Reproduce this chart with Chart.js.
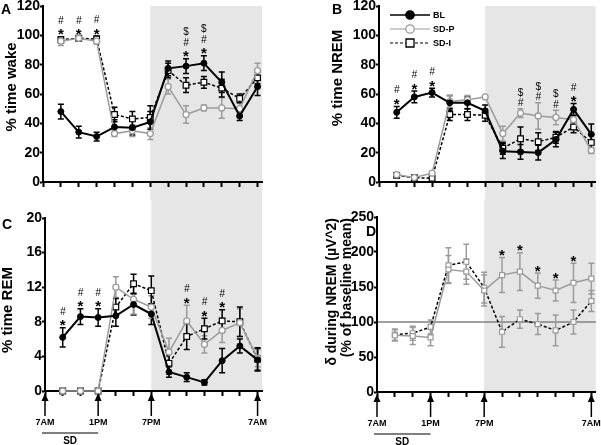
<!DOCTYPE html>
<html>
<head>
<meta charset="utf-8">
<script src="https://cdn.jsdelivr.net/npm/chart.js"></script>
<style>
  body { margin: 0; background: #fff; width: 601px; height: 445px; position: relative; overflow: hidden; }
  canvas { position: absolute; }
</style>
</head>
<body>
<canvas id="panelA" width="300" height="200" style="left:0;top:0;width:300px;height:200px"></canvas>
<canvas id="panelB" width="301" height="200" style="left:300px;top:0;width:301px;height:200px"></canvas>
<canvas id="panelC" width="300" height="245" style="left:0;top:200px;width:300px;height:245px"></canvas>
<canvas id="panelD" width="301" height="245" style="left:300px;top:200px;width:301px;height:245px"></canvas>
<script>
// 2-hour bins counted from 7AM
let bins = [1, 2, 3, 4, 5, 6, 7, 8, 9, 10, 11, 12];
let hourTicks = [0, 1, 2, 3, 4, 5, 6, 7, 8, 9, 10, 11, 12];
let clockPos = [0, 3, 6, 12];
let clockLabels = ['7AM', '1PM', '7PM', '7AM'];
let darkStart = 6;   // 7PM
let sdSpan = [0, 3]; // 7AM - 1PM

// A: % time wake
let wakeBL = [48, 34, 31, 37.5, 37, 41, 77.5, 79, 81, 68, 45, 65];
let wakeBLErr = [5, 4, 3, 5, 5, 7, 5, 5, 5, 7, 3, 6];
let wakeSDP = [96, 98, 96, 33, 35, 33, 65, 46, 50.5, 50.5, 50, 76];
let wakeSDPErr = [3, 1, 2, 2, 4, 4, 5, 6, 2, 7, 4, 5];
let wakeSDI = [97, 98, 97.5, 46, 43, 44, 76, 66, 68, 64, 57, 71];
let wakeSDIErr = [2, 1, 2, 5, 5, 8, 5, 5, 4, 6, 3, 4];

// B: % time NREM
let nremBL = [47.5, 58, 61, 54, 54, 48.5, 21, 20.5, 20, 29, 49.5, 32.5];
let nremBLErr = [4, 4, 3, 5, 4, 4, 5, 5, 5, 5, 4, 7];
let nremSDP = [5, 3, 6, 55, 56, 58, 33, 47, 45, 44, 42.5, 21.5];
let nremSDPErr = [1.5, 1, 1, 4, 3, 1, 5, 3, 9, 5, 2, 2];
let nremSDI = [4.5, 3, 2.5, 46, 46, 45.5, 23, 29.5, 27.5, 30.5, 37.5, 27];
let nremSDIErr = [1.5, 1, 1, 4, 4, 4, 4, 8, 6, 4, 4, 5];

// C: % time REM
let remBL = [6.2, 8.6, 8.5, 8.7, 10, 8.9, 2.2, 1.6, 1.0, 3.5, 5.2, 3.6];
let remBLErr = [1.1, 0.9, 1, 1.2, 1.2, 1.2, 0.6, 0.5, 0.3, 1.4, 0.8, 1.3];
let remSDP = [0, 0, 0, 12, 10.6, 9.7, 4.5, 8.1, 5.4, 7.0, 7.9, 3.8];
let remSDPErr = [0.1, 0.1, 0.1, 1.2, 1.7, 1.3, 1.6, 1.8, 1, 1.4, 1.6, 1];
let remSDI = [0, 0, 0, 9.7, 12.4, 11.6, 3.2, 6.3, 7.2, 8.1, 8.0, 3.7];
let remSDIErr = [0.1, 0.1, 0.1, 1, 1.1, 1.7, 1.2, 1.5, 1.2, 1.3, 1.7, 1.3];

// D: delta power during NREM (% of baseline mean)
let deltaSDP = [81, 80, 78, 175, 172, 145, 167, 172, 152, 145, 156, 162];
let deltaSDPErr = [8, 12, 12, 20, 18, 22, 25, 27, 18, 15, 28, 22];
let deltaSDI = [82, 84, 93, 181, 186, 149, 86, 104, 97, 88, 100, 130];
let deltaSDIErr = [8, 10, 10, 25, 25, 22, 22, 13, 15, 22, 17, 15];
let deltaBaseline = 100;

// significance marks stacked above each bin
let sigPosA = [1, 2, 3, 8, 9];
let sigMarksA = ['*#', '*#', '*#', '*#$', '*#$'];
let sigPosB = [1, 2, 3, 8, 9, 10, 11];
let sigMarksB = ['*#', '*#', '*#', '#$', '#$', '#$', '*#'];
let sigPosC = [1, 2, 3, 8, 9, 10];
let sigMarksC = ['*#', '*#', '*#', '*#', '*#', '*#'];
let sigPosD = [7, 8, 9, 10, 11];
let sigMarksD = ['*', '*', '*', '*', '*'];

const FONT = "'Liberation Sans', Arial, sans-serif";
const GRAY = '#9b9b9b';
const SHADE = '#e6e6e6';

function xy(vals) {
  return bins.map((x, i) => ({ x: x, y: vals[i] }));
}

function series(label, vals, errs, look) {
  let base = {
    label: label, data: xy(vals), errors: errs,
    tension: 0, fill: false, clip: false, spanGaps: true,
  };
  if (look == 'BL') Object.assign(base, {
    borderColor: '#000', borderWidth: 2, pointStyle: 'circle', pointRadius: 3,
    pointBackgroundColor: '#000', pointBorderColor: '#000', pointBorderWidth: 1, errColor: '#000',
  });
  if (look == 'SD-P') Object.assign(base, {
    borderColor: GRAY, borderWidth: 1.5, pointStyle: 'circle', pointRadius: 3,
    pointBackgroundColor: '#fff', pointBorderColor: GRAY, pointBorderWidth: 1.3, errColor: GRAY,
  });
  if (look == 'SD-I') Object.assign(base, {
    borderColor: '#000', borderWidth: 1.5, borderDash: [3, 2], pointStyle: 'rect', pointRadius: 4,
    pointBackgroundColor: '#fff', pointBorderColor: '#000', pointBorderWidth: 1.2, errColor: '#000',
  });
  if (look == 'D-P') Object.assign(base, {
    borderColor: GRAY, borderWidth: 1.5, pointStyle: 'rect', pointRadius: 3.5,
    pointBackgroundColor: '#fff', pointBorderColor: GRAY, pointBorderWidth: 1.2, errColor: GRAY,
  });
  if (look == 'D-I') Object.assign(base, {
    borderColor: '#000', borderWidth: 1.5, borderDash: [3, 2], pointStyle: 'rect', pointRadius: 3.5,
    pointBackgroundColor: '#fff', pointBorderColor: GRAY, pointBorderWidth: 1.2, errColor: GRAY,
  });
  return base;
}

// Grey band for the dark phase (+ reference line for D)
const shade = {
  id: 'shade',
  beforeDraw(chart, args, o) {
    let { ctx, chartArea: a, scales: { x } } = chart;
    let left = x.getPixelForValue(darkStart);
    let top = o.fullTop ? 0 : a.top;
    let bottom = o.fullBottom ? chart.height : a.bottom;
    ctx.save();
    ctx.fillStyle = SHADE;
    ctx.fillRect(left, top, a.right - left, bottom - top);
    if (o.ref != null) {
      let ry = chart.scales.y.getPixelForValue(o.ref);
      ctx.strokeStyle = '#808080';
      ctx.lineWidth = 1.5;
      ctx.beginPath(); ctx.moveTo(a.left, ry); ctx.lineTo(a.right, ry); ctx.stroke();
    }
    ctx.restore();
  }
};

// Error bars from dataset.errors
const errorBars = {
  id: 'errorBars',
  beforeDatasetsDraw(chart) {
    let { ctx, scales: { x, y } } = chart;
    ctx.save();
    chart.data.datasets.forEach(ds => {
      ctx.strokeStyle = ds.errColor;
      ctx.lineWidth = 1.5;
      ds.data.forEach((p, i) => {
        let e = ds.errors[i];
        if (!e || e < 0.2) return;
        let px = x.getPixelForValue(p.x);
        let hi = y.getPixelForValue(p.y + e);
        let lo = y.getPixelForValue(Math.max(0, p.y - e));
        ctx.beginPath();
        ctx.moveTo(px, hi); ctx.lineTo(px, lo);
        ctx.moveTo(px - 3, hi); ctx.lineTo(px + 3, hi);
        ctx.moveTo(px - 3, lo); ctx.lineTo(px + 3, lo);
        ctx.stroke();
      });
    });
    ctx.restore();
  }
};

// Stacked significance symbols above the highest error bar
const sig = {
  id: 'sig',
  afterDatasetsDraw(chart, args, o) {
    let { ctx, scales: { x, y } } = chart;
    ctx.save();
    ctx.fillStyle = '#000';
    ctx.textAlign = 'center';
    ctx.textBaseline = 'alphabetic';
    o.pos.forEach((p, k) => {
      let top = Math.max(...chart.data.datasets.map(ds => {
        let i = ds.data.findIndex(d => d.x === p);
        return ds.data[i].y + ds.errors[i];
      }));
      let px = x.getPixelForValue(p);
      let cy = y.getPixelForValue(top) - 6;
      for (let ch of o.marks[k]) {
        if (ch == '*') { ctx.font = 'bold 15px ' + FONT; ctx.fillText('*', px, cy + 8.5); }
        else if (ch == '#') { ctx.font = 'italic 10px ' + FONT; ctx.fillText('#', px, cy + 3.5); }
        else { ctx.font = '10px ' + FONT; ctx.fillText('$', px, cy + 3.5); }
        cy -= 10.5;
      }
    });
    ctx.restore();
  }
};

// Panel letter, axis title, clock arrows, SD bar, legend
const decor = {
  id: 'decor',
  afterDraw(chart, args, o) {
    let { ctx, chartArea: a, scales: { x } } = chart;
    ctx.save();
    ctx.fillStyle = '#000';
    ctx.strokeStyle = '#000';

    ctx.font = 'bold 14px ' + FONT;
    ctx.textAlign = 'center';
    ctx.textBaseline = 'middle';
    ctx.fillText(o.letter, o.letterX, o.letterY);

    ctx.font = 'bold ' + o.titleSize + 'px ' + FONT;
    o.title.forEach((line, i) => {
      ctx.save();
      ctx.translate(o.titleX[i], o.titleY);
      ctx.rotate(-Math.PI / 2);
      ctx.textAlign = o.titleAlign;
      ctx.fillText(line, 0, 0);
      ctx.restore();
    });

    if (o.clock) {
      let y0 = a.bottom + 2;
      ctx.lineWidth = 1.5;
      clockPos.forEach(p => {
        let px = x.getPixelForValue(p);
        ctx.beginPath(); ctx.moveTo(px, y0 + 5); ctx.lineTo(px, y0 + 23); ctx.stroke();
        ctx.beginPath(); ctx.moveTo(px, y0); ctx.lineTo(px - 3.5, y0 + 8); ctx.lineTo(px + 3.5, y0 + 8); ctx.closePath(); ctx.fill();
      });
      let s0 = x.getPixelForValue(sdSpan[0]) - 3, s1 = x.getPixelForValue(sdSpan[1]);
      ctx.lineWidth = 1.2;
      ctx.beginPath(); ctx.moveTo(s0, a.bottom + 42); ctx.lineTo(s1, a.bottom + 42); ctx.stroke();
      ctx.font = 'bold 10px ' + FONT;
      ctx.textAlign = 'center';
      ctx.fillText('SD', (s0 + s1) / 2, a.bottom + 50);
    }

    if (o.legend) {
      let lx = o.legendX;
      chart.data.datasets.forEach((ds, i) => {
        let ly = o.legendY + i * 14;
        ctx.save();
        ctx.strokeStyle = ds.borderColor;
        ctx.lineWidth = ds.borderWidth - 0.3;
        ctx.setLineDash(ds.borderDash || []);
        ctx.beginPath(); ctx.moveTo(lx, ly); ctx.lineTo(lx + 40, ly); ctx.stroke();
        ctx.setLineDash([]);
        ctx.fillStyle = ds.pointBackgroundColor;
        ctx.strokeStyle = ds.pointBorderColor;
        ctx.lineWidth = 1.3;
        ctx.beginPath();
        if (ds.pointStyle == 'rect') ctx.rect(lx + 16, ly - 4, 8, 8);
        else ctx.arc(lx + 20, ly, 4.2, 0, Math.PI * 2);
        ctx.fill(); ctx.stroke();
        ctx.restore();
        ctx.font = 'bold 9px ' + FONT;
        ctx.textAlign = 'left';
        ctx.fillText(ds.label, lx + 43, ly + 0.5);
      });
    }
    ctx.restore();
  }
};

function makePanel(id, p) {
  let canvas = document.getElementById(id);
  return new Chart(canvas, {
    type: 'line',
    data: { datasets: p.datasets },
    options: {
      responsive: false,
      animation: false,
      events: [],
      layout: { padding: { left: 0, top: p.top, right: canvas.width - p.right, bottom: 0 } },
      plugins: {
        legend: { display: false },
        tooltip: { enabled: false },
        shade: p.shade,
        sig: p.sig,
        decor: p.decor,
      },
      scales: {
        x: {
          type: 'linear', min: 0, max: 12.25,
          afterBuildTicks: s => { s.ticks = hourTicks.map(v => ({ value: v })); },
          afterFit: s => { s.height = canvas.height - p.bottom; s.paddingLeft = 0; s.paddingRight = 0; },
          ticks: {
            autoSkip: false, maxRotation: 0, padding: 21, color: '#000',
            font: { family: FONT, size: 9, weight: 'bold' },
            callback: v => {
              if (!p.clockLabels) return '';
              let k = clockPos.indexOf(v);
              return k >= 0 ? clockLabels[k] : '';
            },
          },
          grid: { drawOnChartArea: false, drawTicks: true, tickLength: 5, tickWidth: 2, tickColor: '#000' },
          border: { color: '#000', width: 2 },
        },
        y: {
          min: 0, max: p.yMax,
          afterFit: s => { s.width = p.left; s.paddingTop = 0; s.paddingBottom = 0; },
          ticks: { stepSize: p.yStep, padding: 0, color: '#000', font: { family: FONT, size: 14, weight: 'bold' } },
          grid: { drawOnChartArea: false, drawTicks: true, tickLength: 3, tickWidth: 2, tickColor: '#000' },
          border: { color: '#000', width: 2 },
        },
      },
    },
    plugins: [shade, errorBars, sig, decor],
  });
}

makePanel('panelA', {
  left: 43, top: 6, right: 262, bottom: 182, yMax: 120, yStep: 20,
  datasets: [
    series('BL', wakeBL, wakeBLErr, 'BL'),
    series('SD-P', wakeSDP, wakeSDPErr, 'SD-P'),
    series('SD-I', wakeSDI, wakeSDIErr, 'SD-I'),
  ],
  shade: { fullTop: false, fullBottom: true },
  sig: { pos: sigPosA, marks: sigMarksA },
  decor: { letter: 'A', letterX: 6, letterY: 10, title: ['% time wake'], titleX: [12], titleY: 87, titleAlign: 'center', titleSize: 15 },
});

makePanel('panelB', {
  left: 79, top: 6, right: 297, bottom: 182, yMax: 120, yStep: 20,
  datasets: [
    series('BL', nremBL, nremBLErr, 'BL'),
    series('SD-P', nremSDP, nremSDPErr, 'SD-P'),
    series('SD-I', nremSDI, nremSDIErr, 'SD-I'),
  ],
  shade: { fullTop: false, fullBottom: true },
  sig: { pos: sigPosB, marks: sigMarksB },
  decor: { letter: 'B', letterX: 37, letterY: 10, title: ['% time NREM'], titleX: [38], titleY: 78, titleAlign: 'center', titleSize: 15,
           legend: true, legendX: 90, legendY: 15 },
});

makePanel('panelC', {
  left: 45, top: 18, right: 262, bottom: 191, yMax: 20, yStep: 4, clockLabels: true,
  datasets: [
    series('BL', remBL, remBLErr, 'BL'),
    series('SD-P', remSDP, remSDPErr, 'SD-P'),
    series('SD-I', remSDI, remSDIErr, 'SD-I'),
  ],
  shade: { fullTop: true, fullBottom: false },
  sig: { pos: sigPosC, marks: sigMarksC },
  decor: { letter: 'C', letterX: 7, letterY: 25, title: ['% time REM'], titleX: [8], titleY: 110, titleAlign: 'center', titleSize: 15, clock: true },
});

makePanel('panelD', {
  left: 77, top: 17, right: 297, bottom: 192, yMax: 250, yStep: 50, clockLabels: true,
  datasets: [
    series('SD-P', deltaSDP, deltaSDPErr, 'D-P'),
    series('SD-I', deltaSDI, deltaSDIErr, 'D-I'),
  ],
  shade: { fullTop: true, fullBottom: false, ref: deltaBaseline },
  sig: { pos: sigPosD, marks: sigMarksD },
  decor: { letter: 'D', letterX: 71, letterY: 32, title: ['\u03b4 during NREM (\u00b5V^2)', '(% of baseline mean)'], titleX: [32, 47], titleY: 18, titleAlign: 'right', titleSize: 14, clock: true },
});
</script>
</body>
</html>
